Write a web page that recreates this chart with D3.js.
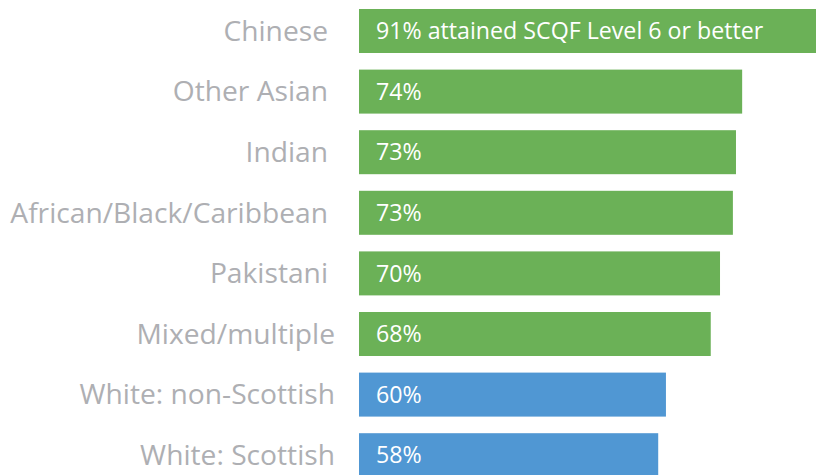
<!DOCTYPE html>
<html><head><meta charset="utf-8">
<script src="https://cdn.jsdelivr.net/npm/d3@7"></script>
<style>html,body{margin:0;padding:0;background:#fff;overflow:hidden}</style>
</head><body>
<svg id="chart" width="816" height="475"></svg>
<script>
const categories = ["Chinese","Other Asian","Indian","African/Black/Caribbean","Pakistani","Mixed/multiple","White: non-Scottish","White: Scottish"];
const values = [91, 74.4, 73.2, 72.6, 70.1, 68.3, 59.6, 58.1];
const valueLabels = ["91% attained SCQF Level 6 or better","74%","73%","73%","70%","68%","60%","58%"];
const groups = ["minority","minority","minority","minority","minority","minority","white","white"];

const colors = {minority:"#6BB157", white:"#5097D3"};
const svg = d3.select("#chart");
const x = d3.scaleLinear().domain([0,100]).range([359, 359+515]);
const y = d3.scaleBand().domain(categories).range([9, 477.2]).paddingInner(0.274).paddingOuter(0);
const font = "'Open Sans', sans-serif";
const rows = categories.map((c,i)=>({c, v:values[i], lab:valueLabels[i], g:groups[i], i}));

svg.selectAll("rect.bar").data(rows).join("rect")
  .attr("class","bar")
  .attr("x", x(0)).attr("y", d=>y(d.c))
  .attr("width", d=>x(d.v)-x(0)).attr("height", y.bandwidth())
  .attr("fill", d=>colors[d.g]);

const lfs = 28.2;
svg.selectAll("text.cat").data(rows).join("text")
  .attr("class","cat")
  .attr("x", d=> d.i>=5 ? 335 : 328)
  .attr("y", d=>y(d.c)+y.bandwidth()/2 + lfs*0.345)
  .attr("text-anchor","end")
  .attr("font-family", font).attr("font-size", lfs)
  .attr("fill","#AEAFB3")
  .text(d=>d.c);

const vfs = 23.2;
svg.selectAll("text.val").data(rows).join("text")
  .attr("class","val")
  .attr("x", x(0)+17)
  .attr("y", d=>y(d.c)+y.bandwidth()/2 + vfs*0.357)
  .attr("font-family", font).attr("font-size", vfs)
  .attr("fill","#fff")
  .text(d=>d.lab);
</script>
</body></html>
